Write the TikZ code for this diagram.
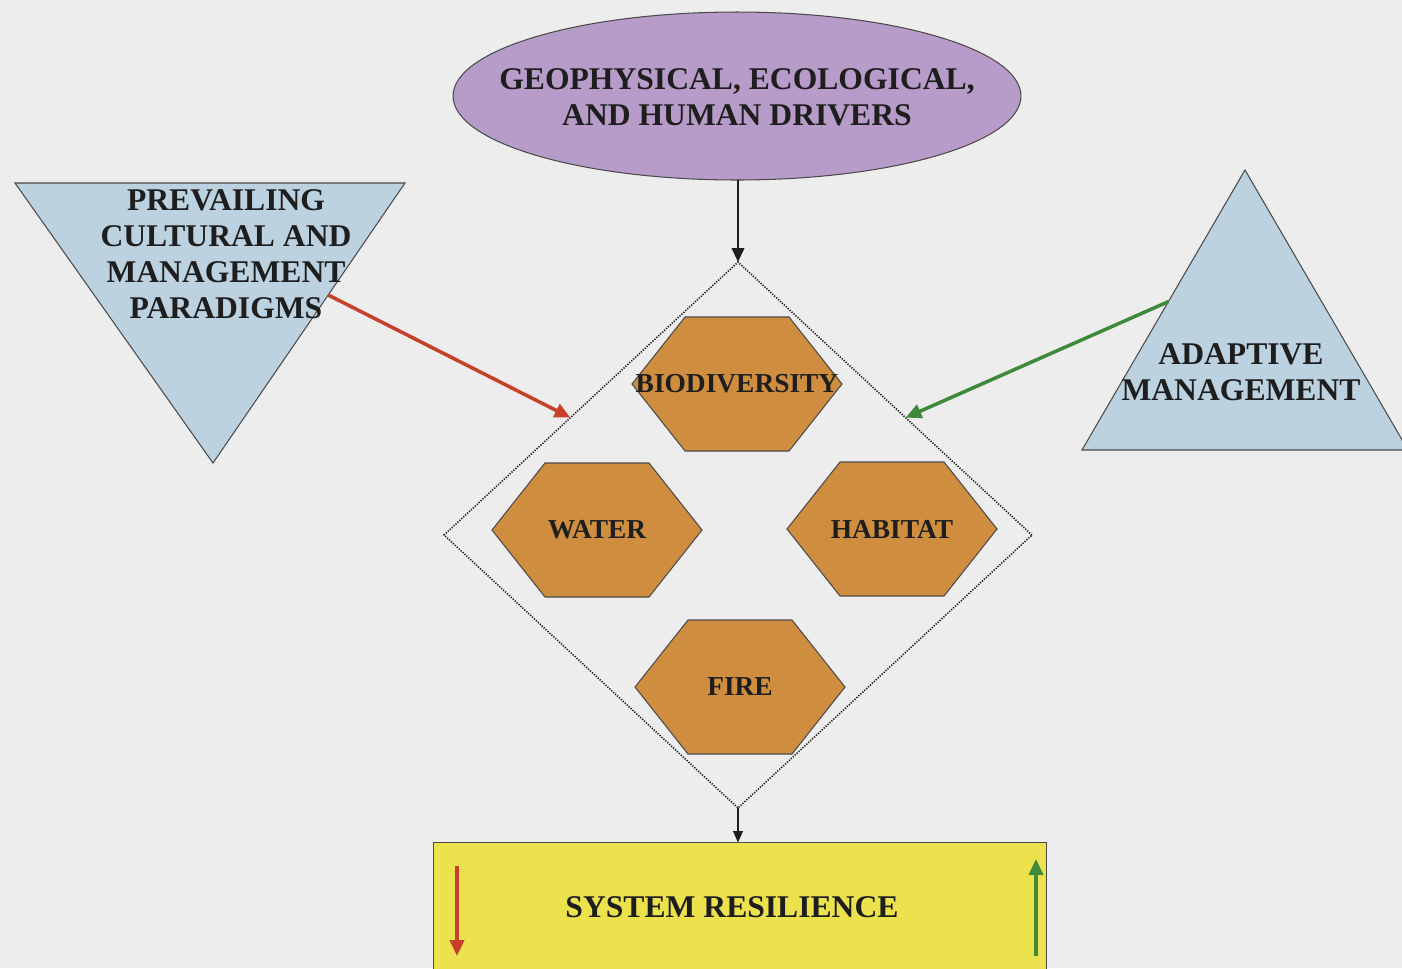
\documentclass[tikz,border=0pt]{standalone}
\usepackage{fontspec}
\setmainfont{Liberation Serif}
\usetikzlibrary{arrows.meta,calc,shapes.geometric}

\definecolor{paper}{HTML}{EDEDED}
\definecolor{ink}{HTML}{1E1E1E}
\definecolor{lilac}{HTML}{B79BC9}
\definecolor{skyblue}{HTML}{BDD2E0}
\definecolor{ochre}{HTML}{CF8D40}
\definecolor{lemon}{HTML}{ECE24E}
\definecolor{redline}{HTML}{C8402A}
\definecolor{greenline}{HTML}{3E8A3A}

% one flattened hexagon with its label
\newcommand\hexcell[4]{%
  \draw[hexshape] (#2-105,#3) -- (#2-52,#3-67) -- (#2+52,#3-67) -- (#2+105,#3)
    -- (#2+52,#3+67) -- (#2-52,#3+67) -- cycle;
  \node[hexlabel] (#1) at (#2,#3) {#4};
}

\begin{document}
\begin{tikzpicture}[x=0.02cm, y=-0.02cm,
  bigtext/.style={font=\bfseries\fontsize{18}{20.5}\selectfont, text=ink, align=center, inner sep=0pt},
  hexlabel/.style={font=\bfseries\fontsize{15.6}{18}\selectfont, text=ink, inner sep=0pt},
  hexshape/.style={fill=ochre, draw=ink!80, line width=0.6pt},
  shapeline/.style={draw=ink!80, line width=0.6pt},
  blackarrow/.style={draw=ink, line width=1.6pt, -{Triangle[length=8pt,width=7pt]}},
  thinarrow/.style={draw=ink, line width=1pt, -{Triangle[length=6.5pt,width=5.5pt]}},
  redarrow/.style={draw=redline, line width=2pt, -{Triangle[length=9pt,width=8pt]}},
  greenarrow/.style={draw=greenline, line width=2pt, -{Triangle[length=9pt,width=8pt]}},
  core/.style={diamond, draw=ink, line width=0.9pt, dash pattern=on 0.7pt off 0.8pt,
    inner sep=0pt, outer sep=0pt, minimum width=11.76cm, minimum height=10.92cm}]

\clip (0,0) rectangle (1402,968);
\fill[paper] (0,0) rectangle (1402,968);

% drivers
\node[ellipse, shapeline, fill=lilac, inner sep=0pt, outer sep=0pt,
  minimum width=11.36cm, minimum height=3.36cm] (drv) at (737,96) {};
\node[bigtext] (drvtext) at (737,97) {GEOPHYSICAL, ECOLOGICAL,\\AND HUMAN DRIVERS};

% prevailing paradigms (inverted triangle)
\coordinate (pTL) at (15,183);
\coordinate (pTR) at (405,183);
\coordinate (pB) at (213,463);
\draw[shapeline, fill=skyblue] (pTL) -- (pTR) -- (pB) -- cycle;
\node[bigtext] (prev) at (226,254) {PREVAILING\\CULTURAL AND\\MANAGEMENT\\PARADIGMS};

% adaptive management (triangle)
\coordinate (qA) at (1245,170);
\coordinate (qL) at (1082,450);
\coordinate (qR) at (1408,450);
\draw[shapeline, fill=skyblue] (qA) -- (qL) -- (qR) -- cycle;
\node[bigtext] (adapt) at (1241,372) {ADAPTIVE\\MANAGEMENT};

% system core
\node[core] (core) at (738,535) {};
\hexcell{bio}{737}{384}{BIODIVERSITY}
\hexcell{water}{597}{530}{WATER}
\hexcell{habitat}{892}{529}{HABITAT}
\hexcell{fire}{740}{687}{FIRE}

% resilience
\node[rectangle, shapeline, fill=lemon, minimum width=12.28cm, minimum height=2.7cm,
  inner sep=0pt, outer sep=0pt] (res) at (740,910) {};
\node[bigtext] (restext) at (732,907) {SYSTEM RESILIENCE};
\coordinate (downTop) at (457,866);
\coordinate (downEnd) at (457,956);
\coordinate (upBot) at (1036,956);
\coordinate (upEnd) at (1036,859);
\draw[redarrow, line width=1.8pt] (downTop) -- (downEnd);
\draw[greenarrow, line width=1.8pt] (upBot) -- (upEnd);

% connectors
\draw[blackarrow] (drv.south -| core.north) -- (core.north);
\draw[thinarrow] (core.south) -- (core.south |- res.north);
\draw[redarrow] ($(pTR)!0.4!(pB)$) -- ($(core.north)!0.57!(core.west)$);
\draw[greenarrow] ($(qA)!0.47!(qL)$) -- ($(core.north)!0.57!(core.east)$);

\end{tikzpicture}
\end{document}
